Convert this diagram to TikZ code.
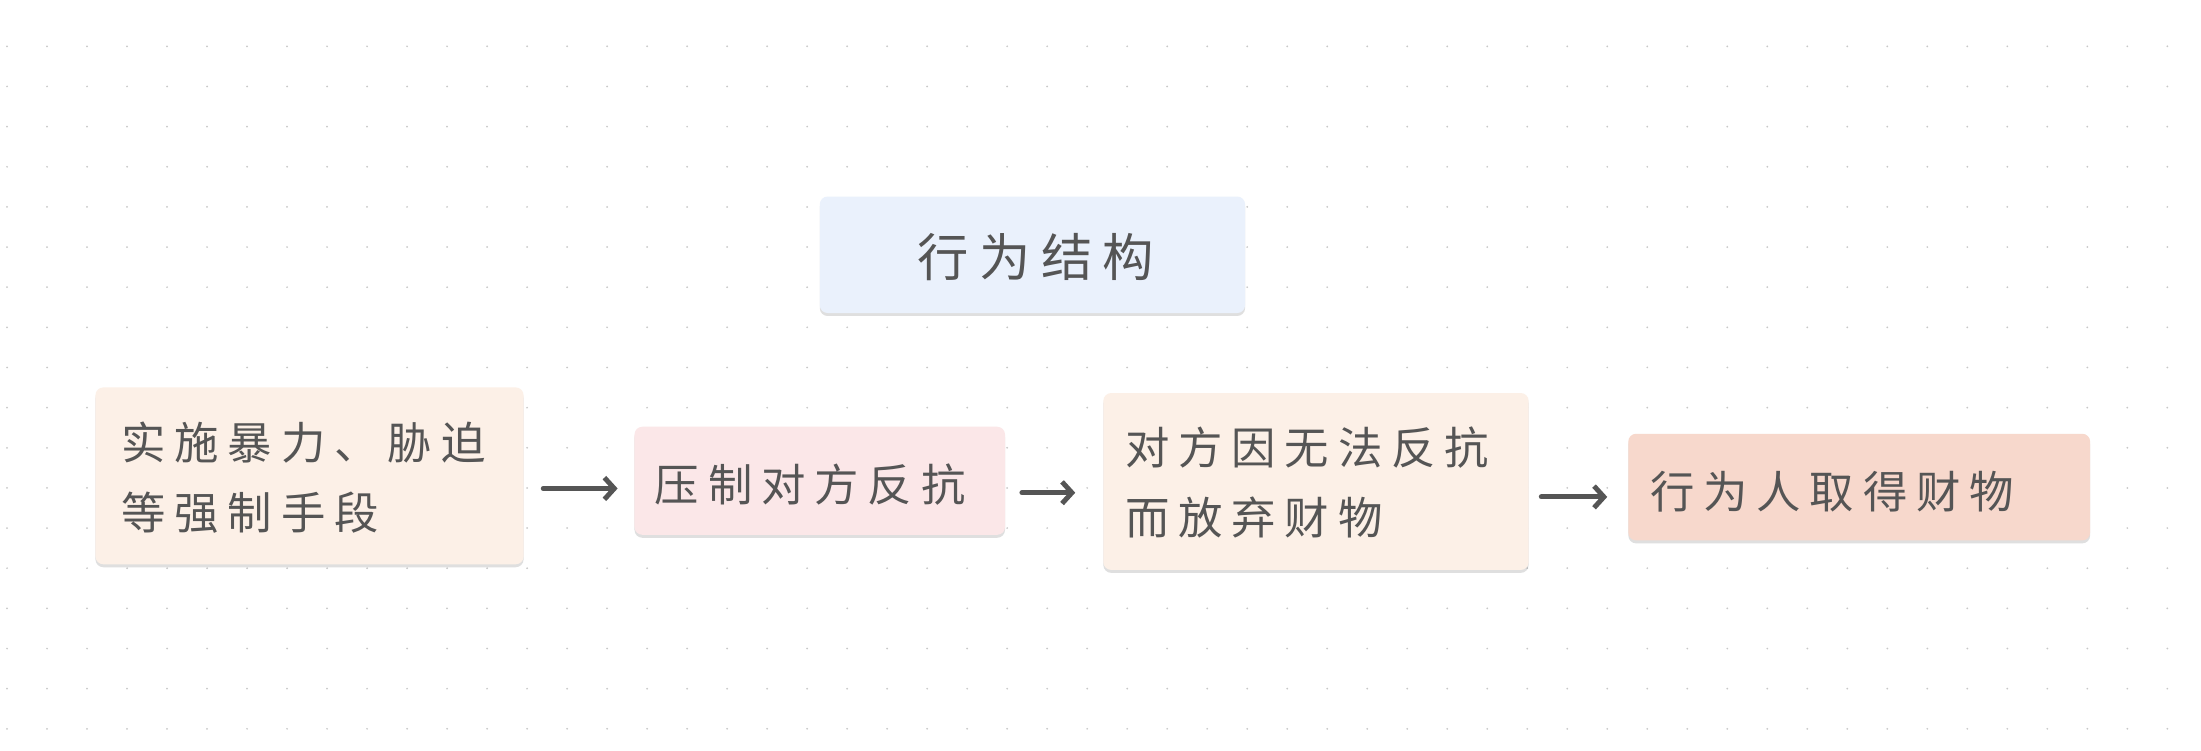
\documentclass[tikz,border=0pt]{standalone}
\usepackage{fontspec}
\newfontfamily\cjk[LetterSpace=20]{Noto Sans CJK SC}
\usetikzlibrary{shadows,arrows.meta}
\definecolor{txt}{HTML}{555555}
\definecolor{dotc}{HTML}{C8C8C8}
\definecolor{cblue}{HTML}{EAF1FC}
\definecolor{cpeach}{HTML}{FCF0E7}
\definecolor{cpink}{HTML}{FBE7E8}
\definecolor{csal}{HTML}{F7D8CC}
\begin{document}
\begin{tikzpicture}[x=0.05cm,y=-0.05cm,
  box/.style={rounded corners=8pt,draw=none,drop shadow={shadow xshift=0pt,shadow yshift=-3pt,opacity=0.25,fill=black!50}},
  lab/.style={font=\cjk\fontsize{45}{71}\selectfont,text=txt,align=left,anchor=west},
  arr/.style={draw=txt,line width=5pt,line cap=round,-{Straight Barb[length=10pt,width=22pt,line width=5pt]}}]
\useasboundingbox (0,0) rectangle (1568,535);
\fill[white] (0,0) rectangle (1568,535);
\foreach \i in {0,...,55} \foreach \j in {0,...,18}
  \fill[dotc] ({5+\i*28.5},{33+\j*28.6}) circle (1pt);
\fill[box,fill=cblue] (584,140) rectangle (887,223);
\node[font=\cjk\fontsize{52}{60}\selectfont,text=txt] (t) at (738,183) {行为结构};
\fill[box,fill=cpeach] (68,276) rectangle (373,402);
\fill[box,fill=cpink] (452,304) rectangle (716,381);
\fill[box,fill=cpeach] (786,280) rectangle (1089,406);
\fill[box,fill=csal] (1160,309) rectangle (1489,385);
\node[lab] (a) at (84,340) {实施暴力、胁迫\\等强制手段};
\node[lab] (b) at (464,345) {压制对方反抗};
\node[lab] (c) at (799,344) {对方因无法反抗\\而放弃财物};
\node[lab] (d) at (1173,350) {行为人取得财物};
\coordinate (a1) at (387,348); \coordinate (a2) at (440,348);
\coordinate (b1) at (728,351); \coordinate (b2) at (766,351);
\coordinate (c1) at (1098,354); \coordinate (c2) at (1145,354);
\draw[arr] (a1) -- (a2);
\draw[arr] (b1) -- (b2);
\draw[arr] (c1) -- (c2);
\end{tikzpicture}
\end{document}
